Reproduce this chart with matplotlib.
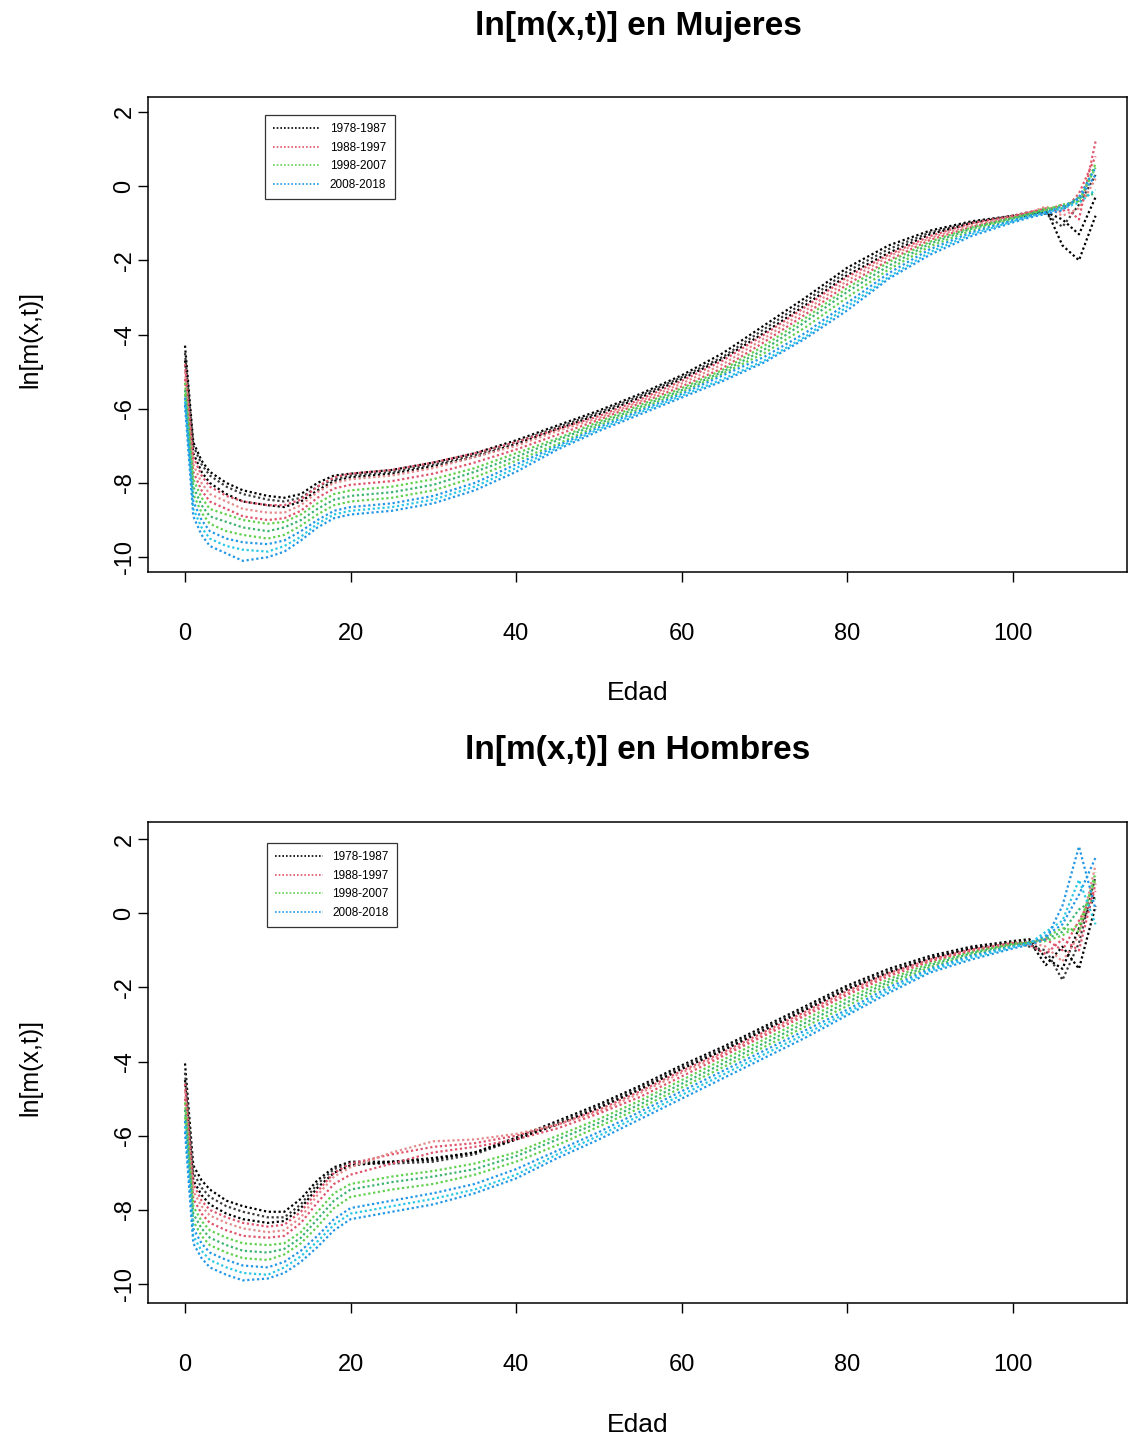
import matplotlib
matplotlib.use("Agg")
import matplotlib.pyplot as plt

plt.rcParams['font.family'] = ['Liberation Sans', 'DejaVu Sans']
plt.rcParams['axes.unicode_minus'] = False

ages = [0, 1, 2, 3, 5, 7, 10, 12, 14, 16, 18, 20, 25, 30, 35, 40, 45, 50, 55, 60,
        65, 70, 75, 80, 85, 90, 95, 100, 102, 104, 106, 108, 110]

group_labels = ["1978-1987", "1988-1997", "1998-2007", "2008-2018"]
group_colors = ["#000000", "#DF536B", "#61D04F", "#2297E6"]
alt_colors = ["#3a3a3a", "#E58A8A", "#3CB371", "#28C8E5"]

# ---------------- Mujeres ----------------
f_k1 = [-4.3, -6.9, -7.4, -7.7, -8.0, -8.2, -8.35, -8.4, -8.3, -8.0, -7.8, -7.75, -7.65, -7.45, -7.2, -6.85, -6.45, -6.05, -5.6, -5.1, -4.5, -3.75, -3.0, -2.2, -1.6, -1.2, -0.95, -0.8, -0.75, -0.7, -0.9, -1.3, -0.3]
f_k2 = [-4.5, -7.0, -7.5, -7.8, -8.1, -8.3, -8.45, -8.5, -8.4, -8.1, -7.9, -7.8, -7.7, -7.5, -7.25, -6.9, -6.5, -6.1, -5.65, -5.15, -4.6, -3.85, -3.1, -2.3, -1.7, -1.25, -0.98, -0.8, -0.7, -0.75, -1.1, -0.5, 0.3]
f_k3 = [-4.7, -7.2, -7.7, -8.0, -8.3, -8.5, -8.6, -8.65, -8.5, -8.2, -7.95, -7.85, -7.75, -7.55, -7.3, -6.95, -6.55, -6.15, -5.7, -5.2, -4.65, -3.95, -3.2, -2.4, -1.8, -1.3, -1.0, -0.82, -0.8, -0.6, -1.6, -2.0, -0.8]
f_r1 = [-4.8, -7.3, -7.8, -8.1, -8.35, -8.5, -8.6, -8.6, -8.45, -8.1, -7.85, -7.75, -7.65, -7.45, -7.2, -6.9, -6.55, -6.2, -5.75, -5.25, -4.7, -4.0, -3.25, -2.45, -1.85, -1.35, -1.0, -0.8, -0.7, -0.6, -0.7, -0.2, 0.8]
f_r2 = [-5.0, -7.5, -8.0, -8.3, -8.5, -8.7, -8.8, -8.8, -8.6, -8.25, -8.0, -7.9, -7.8, -7.6, -7.3, -7.0, -6.6, -6.25, -5.8, -5.32, -4.8, -4.1, -3.35, -2.55, -1.9, -1.4, -1.05, -0.82, -0.72, -0.55, -0.8, -0.6, 0.2]
f_r3 = [-5.2, -7.7, -8.2, -8.5, -8.7, -8.9, -9.0, -8.95, -8.75, -8.4, -8.15, -8.05, -7.95, -7.75, -7.45, -7.1, -6.7, -6.3, -5.85, -5.4, -4.9, -4.2, -3.45, -2.65, -2.0, -1.45, -1.1, -0.85, -0.7, -0.65, -0.5, -0.9, 1.2]
f_g1 = [-5.3, -7.9, -8.4, -8.7, -8.85, -9.0, -9.1, -9.05, -8.85, -8.55, -8.3, -8.2, -8.1, -7.9, -7.6, -7.2, -6.8, -6.35, -5.9, -5.45, -4.95, -4.3, -3.55, -2.75, -2.05, -1.5, -1.12, -0.85, -0.75, -0.6, -0.55, -0.4, 0.5]
f_g2 = [-5.5, -8.1, -8.6, -8.9, -9.05, -9.2, -9.3, -9.2, -9.0, -8.7, -8.45, -8.35, -8.25, -8.05, -7.7, -7.3, -6.85, -6.4, -5.95, -5.5, -5.0, -4.4, -3.65, -2.85, -2.15, -1.55, -1.15, -0.87, -0.75, -0.65, -0.6, -0.3, -0.2]
f_g3 = [-5.6, -8.3, -8.8, -9.1, -9.3, -9.4, -9.5, -9.4, -9.15, -8.85, -8.6, -8.5, -8.4, -8.2, -7.85, -7.4, -6.95, -6.45, -6.0, -5.55, -5.05, -4.5, -3.8, -3.0, -2.25, -1.62, -1.2, -0.9, -0.78, -0.65, -0.5, -0.4, 0.6]
f_b1 = [-5.7, -8.5, -9.0, -9.3, -9.5, -9.6, -9.65, -9.55, -9.3, -9.0, -8.75, -8.65, -8.55, -8.35, -8.0, -7.5, -7.0, -6.5, -6.05, -5.6, -5.1, -4.6, -3.95, -3.15, -2.35, -1.7, -1.25, -0.92, -0.8, -0.7, -0.55, -0.35, 0.3]
f_b2 = [-5.8, -8.7, -9.2, -9.5, -9.7, -9.8, -9.85, -9.7, -9.45, -9.1, -8.85, -8.75, -8.65, -8.45, -8.1, -7.6, -7.05, -6.55, -6.1, -5.65, -5.2, -4.7, -4.05, -3.25, -2.45, -1.78, -1.3, -0.95, -0.82, -0.72, -0.6, -0.45, -0.1]
f_b3 = [-5.9, -8.9, -9.4, -9.7, -9.9, -10.1, -10.0, -9.85, -9.55, -9.2, -8.95, -8.85, -8.75, -8.55, -8.2, -7.7, -7.1, -6.6, -6.15, -5.7, -5.25, -4.75, -4.1, -3.35, -2.5, -1.85, -1.35, -0.98, -0.85, -0.75, -0.65, -0.3, 0.5]

# ---------------- Hombres ----------------
m_k1 = [-4.05, -6.8, -7.2, -7.45, -7.75, -7.9, -8.05, -8.05, -7.7, -7.2, -6.85, -6.7, -6.7, -6.65, -6.45, -6.05, -5.6, -5.15, -4.65, -4.1, -3.6, -3.05, -2.5, -1.95, -1.5, -1.15, -0.9, -0.75, -0.7, -1.2, -1.5, -0.4, 0.5]
m_k2 = [-4.3, -7.0, -7.4, -7.65, -7.9, -8.05, -8.2, -8.2, -7.85, -7.3, -6.9, -6.75, -6.75, -6.7, -6.5, -6.1, -5.65, -5.2, -4.7, -4.15, -3.65, -3.1, -2.55, -2.0, -1.55, -1.2, -0.95, -0.78, -0.9, -1.0, -1.8, -0.8, 1.0]
m_k3 = [-4.5, -7.2, -7.6, -7.85, -8.1, -8.25, -8.35, -8.3, -7.95, -7.4, -7.0, -6.8, -6.7, -6.6, -6.45, -6.1, -5.7, -5.25, -4.75, -4.2, -3.7, -3.15, -2.6, -2.05, -1.6, -1.22, -0.95, -0.8, -0.75, -1.4, -0.9, -1.5, 0.2]
m_r1 = [-4.6, -7.3, -7.75, -8.0, -8.2, -8.35, -8.45, -8.4, -8.05, -7.5, -7.0, -6.75, -6.5, -6.3, -6.2, -6.0, -5.7, -5.3, -4.8, -4.25, -3.75, -3.2, -2.65, -2.1, -1.62, -1.25, -0.98, -0.8, -0.85, -1.1, -0.7, -1.0, 0.8]
m_r2 = [-4.8, -7.5, -7.9, -8.15, -8.35, -8.5, -8.6, -8.55, -8.2, -7.6, -7.1, -6.85, -6.45, -6.15, -6.1, -5.95, -5.7, -5.35, -4.85, -4.3, -3.8, -3.25, -2.7, -2.15, -1.65, -1.28, -1.0, -0.8, -0.78, -0.9, -1.3, -0.6, 1.3]
m_r3 = [-5.0, -7.7, -8.1, -8.35, -8.55, -8.7, -8.75, -8.7, -8.35, -7.8, -7.3, -7.05, -6.75, -6.45, -6.3, -6.1, -5.8, -5.4, -4.95, -4.4, -3.85, -3.3, -2.75, -2.2, -1.7, -1.3, -1.02, -0.82, -0.8, -0.7, -1.0, -0.2, 0.6]
m_g1 = [-5.1, -7.9, -8.3, -8.55, -8.75, -8.9, -8.95, -8.9, -8.6, -8.05, -7.55, -7.3, -7.1, -6.95, -6.75, -6.45, -6.0, -5.55, -5.05, -4.5, -3.95, -3.4, -2.85, -2.3, -1.78, -1.35, -1.05, -0.82, -0.8, -0.75, -0.6, -0.3, 0.9]
m_g2 = [-5.3, -8.1, -8.5, -8.75, -8.95, -9.1, -9.15, -9.05, -8.75, -8.25, -7.75, -7.45, -7.25, -7.1, -6.9, -6.55, -6.1, -5.65, -5.15, -4.6, -4.05, -3.5, -2.95, -2.4, -1.85, -1.4, -1.08, -0.85, -0.78, -0.7, -0.5, 0.1, 0.4]
m_g3 = [-5.5, -8.3, -8.7, -8.95, -9.15, -9.3, -9.35, -9.2, -8.9, -8.45, -7.95, -7.65, -7.45, -7.3, -7.05, -6.7, -6.25, -5.75, -5.25, -4.7, -4.15, -3.6, -3.05, -2.5, -1.92, -1.45, -1.12, -0.87, -0.8, -0.65, -0.4, -0.5, 1.1]
m_b1 = [-5.6, -8.5, -8.9, -9.15, -9.35, -9.5, -9.55, -9.4, -9.1, -8.7, -8.25, -7.95, -7.75, -7.55, -7.3, -6.9, -6.4, -5.9, -5.35, -4.8, -4.25, -3.7, -3.15, -2.6, -2.0, -1.5, -1.15, -0.9, -0.8, -0.6, -0.3, 0.5, 1.5]
m_b2 = [-5.75, -8.7, -9.1, -9.35, -9.55, -9.7, -9.75, -9.55, -9.25, -8.85, -8.4, -8.1, -7.9, -7.7, -7.45, -7.05, -6.5, -6.0, -5.45, -4.9, -4.35, -3.8, -3.25, -2.68, -2.08, -1.55, -1.2, -0.92, -0.82, -0.5, -0.2, 0.9, -0.3]
m_b3 = [-5.9, -8.9, -9.3, -9.55, -9.75, -9.9, -9.85, -9.7, -9.4, -9.0, -8.55, -8.25, -8.05, -7.85, -7.55, -7.15, -6.6, -6.1, -5.55, -5.0, -4.45, -3.9, -3.35, -2.75, -2.15, -1.6, -1.25, -0.95, -0.85, -0.7, 0.2, 1.8, 0.1]

female_groups = [[f_k1, f_k2, f_k3], [f_r1, f_r2, f_r3], [f_g1, f_g2, f_g3], [f_b1, f_b2, f_b3]]
male_groups = [[m_k1, m_k2, m_k3], [m_r1, m_r2, m_r3], [m_g1, m_g2, m_g3], [m_b1, m_b2, m_b3]]

W, H = 1129, 1438
fig = plt.figure(figsize=(W / 100, H / 100), dpi=100)

def px_axes(left, top, right, bottom):
    return fig.add_axes([left / W, 1 - bottom / H, (right - left) / W, (bottom - top) / H])

dots = (0, (1, 1.2))

def draw_panel(ax, groups, title, ylim, title_y, xlabel_y, legend_anchor):
    for gi, curves in enumerate(groups):
        for ci, vals in enumerate(curves):
            col = group_colors[gi] if ci != 1 else alt_colors[gi]
            ax.plot(ages, vals, color=col, lw=1.6, linestyle=dots,
                    label=group_labels[gi] if ci == 0 else None)
    ax.set_xlim(-4.47, 113.8)
    ax.set_ylim(*ylim)
    ax.set_xticks([0, 20, 40, 60, 80, 100])
    ax.set_yticks([2, 0, -2, -4, -6, -8, -10])
    ax.tick_params(axis='x', length=7, width=1, labelsize=17, pad=30)
    ax.tick_params(axis='y', length=7, width=1, labelsize=17, pad=2)
    for lab in ax.get_yticklabels():
        lab.set_rotation(90)
        lab.set_va('center')
    for sp in ax.spines.values():
        sp.set_linewidth(1.1)
    fig.text(638 / W, 1 - title_y / H, title, ha='center', va='center',
             fontsize=24, fontweight='bold')
    fig.text(638 / W, 1 - xlabel_y / H, "Edad", ha='center', va='center', fontsize=19)
    leg = ax.legend(loc='upper left', bbox_to_anchor=legend_anchor, fontsize=8.5,
                    frameon=True, fancybox=False, edgecolor='black', handlelength=4.0,
                    borderpad=0.7, labelspacing=0.55, handletextpad=0.8, borderaxespad=0)
    leg.get_frame().set_linewidth(0.9)
    for line in leg.get_lines():
        line.set_linewidth(1.2)

ax1 = px_axes(148, 97, 1127, 572)
draw_panel(ax1, female_groups, "ln[m(x,t)] en Mujeres", (-10.40, 2.40), 27, 693, (0.1195, 0.962))
fig.text(30 / W, 1 - 340 / H, "ln[m(x,t)]", rotation=90, ha='center', va='center', fontsize=18)

ax2 = px_axes(148, 822, 1127, 1303)
draw_panel(ax2, male_groups, "ln[m(x,t)] en Hombres", (-10.51, 2.46), 750, 1425, (0.1216, 0.956))
fig.text(30 / W, 1 - 1068 / H, "ln[m(x,t)]", rotation=90, ha='center', va='center', fontsize=18)

fig.savefig("out.png", dpi=100)
